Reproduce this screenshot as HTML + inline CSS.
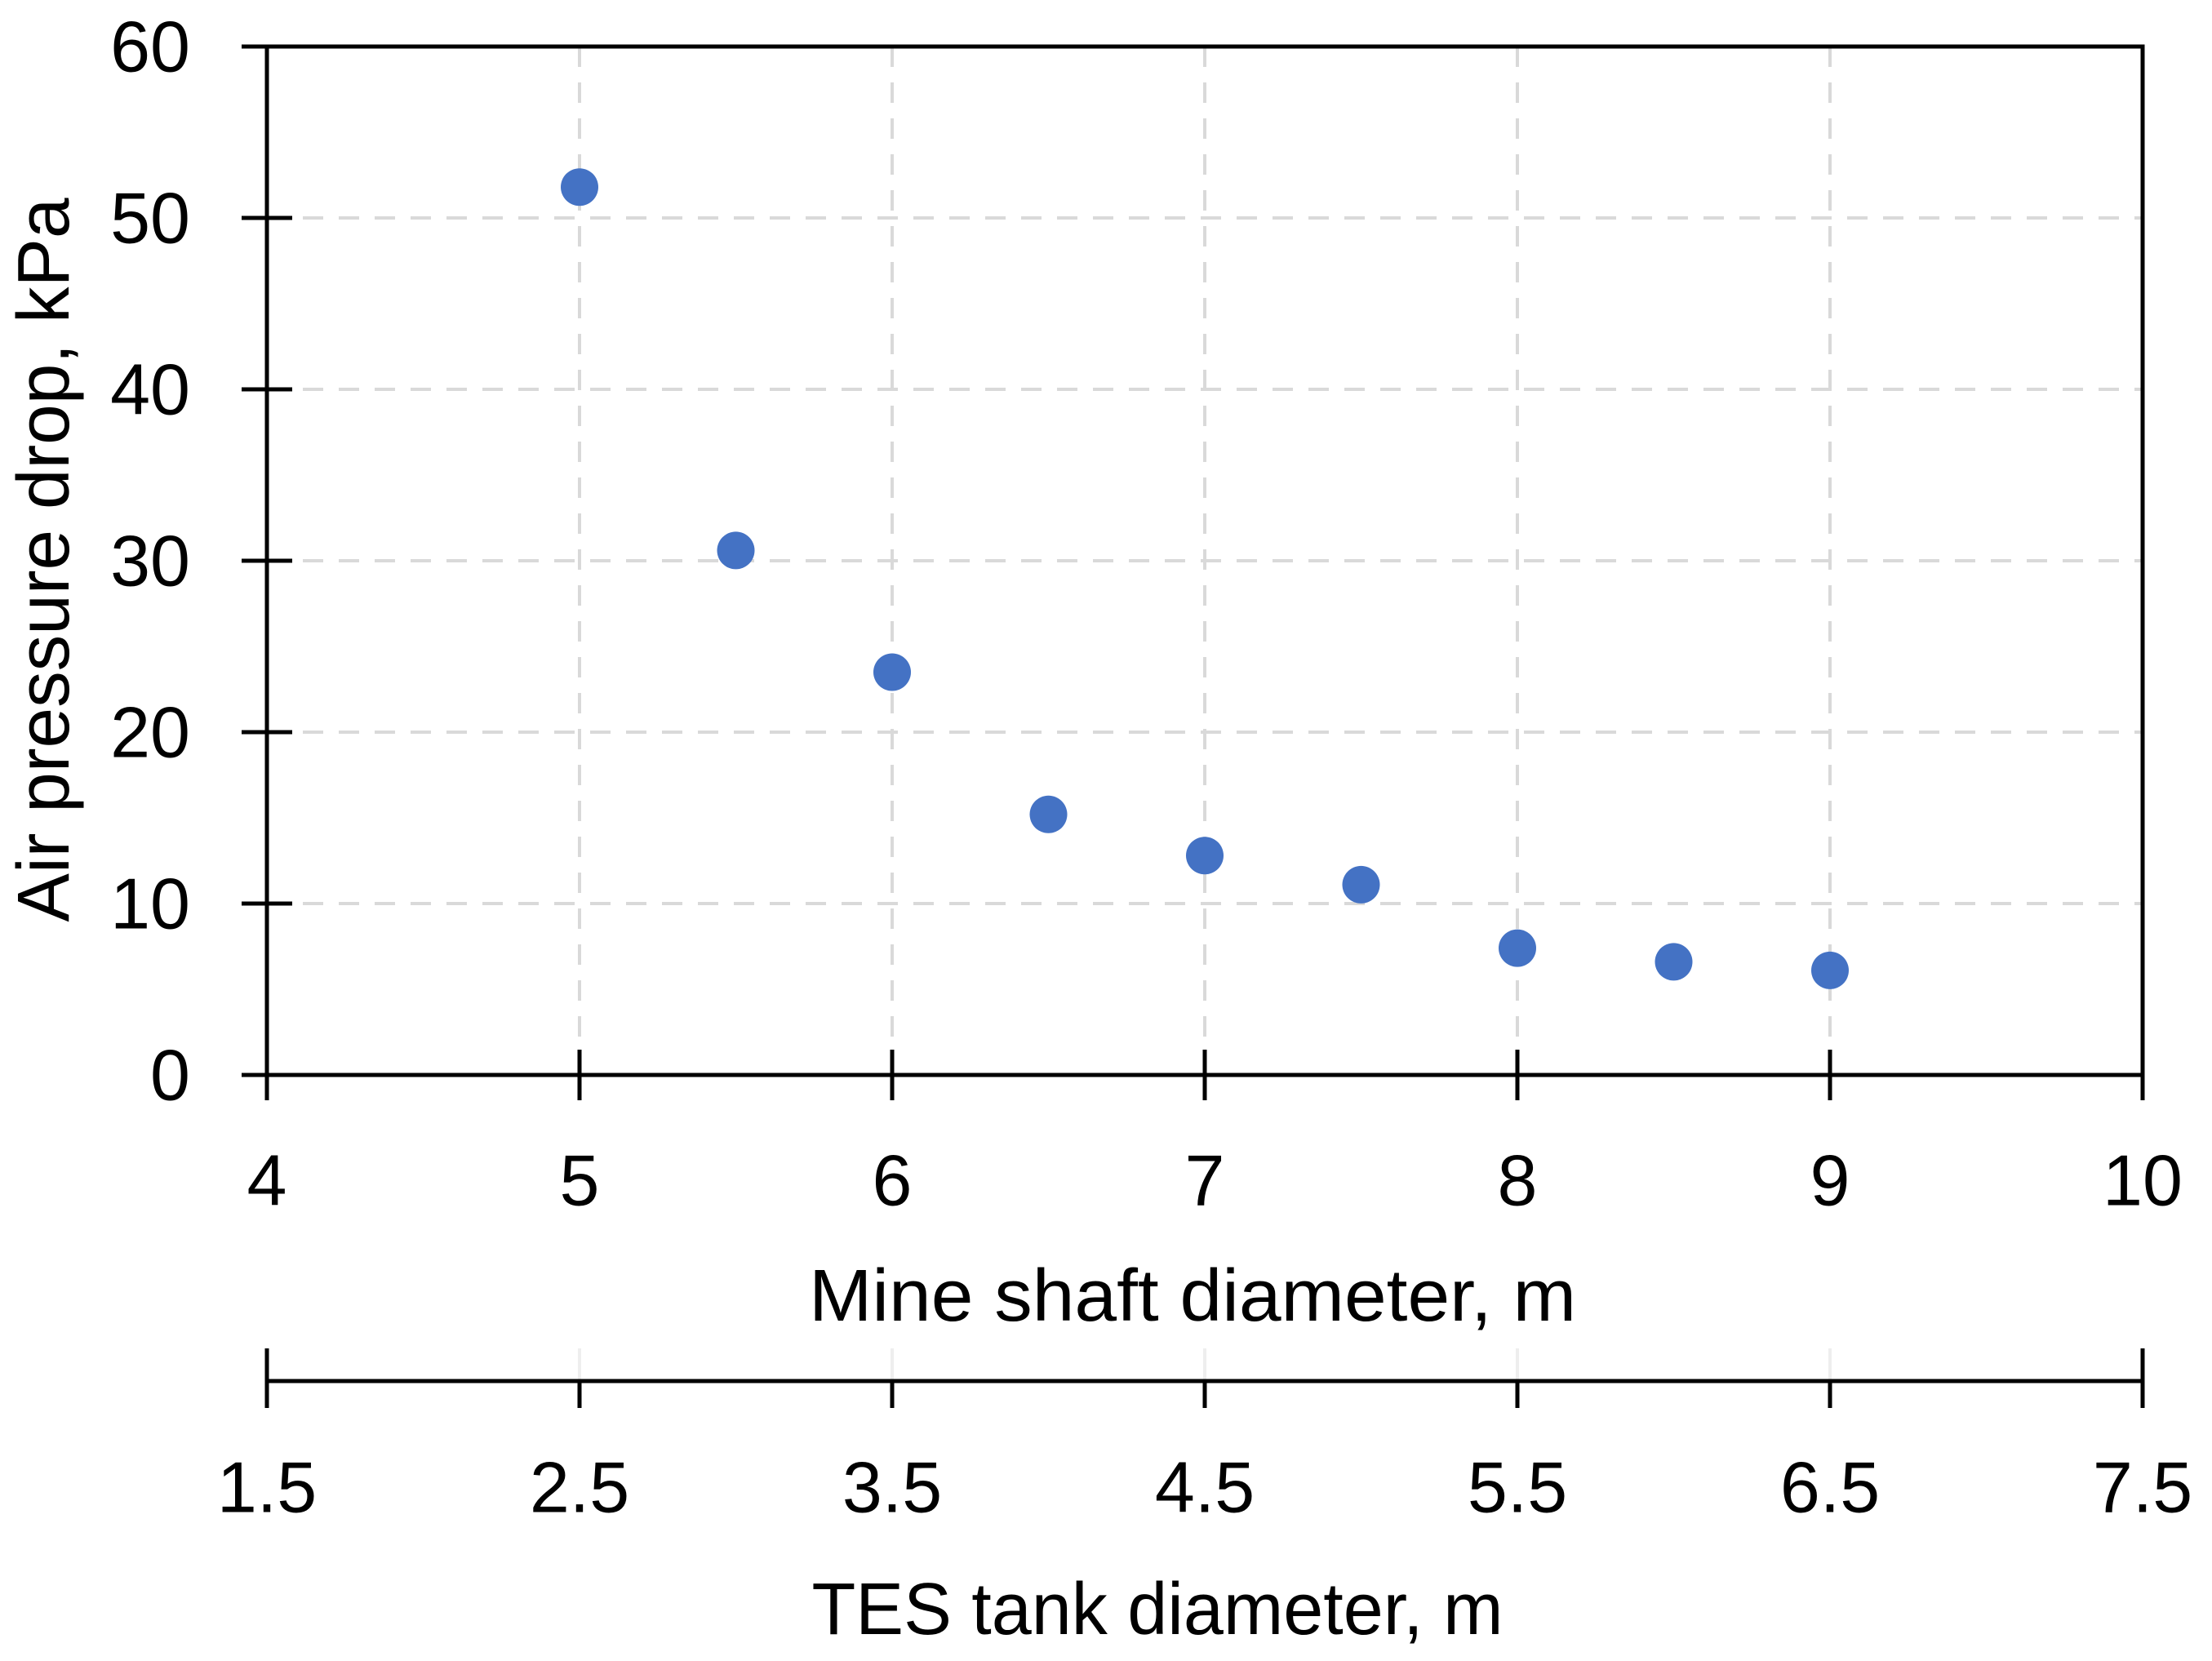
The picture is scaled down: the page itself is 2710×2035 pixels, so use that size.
<!DOCTYPE html>
<html><head><meta charset="utf-8"><style>
html,body{margin:0;padding:0;background:#fff;}
svg text{font-family:"Liberation Sans",sans-serif;fill:#000;}
</style></head><body>
<svg id="chart" width="2710" height="2030" xmlns="http://www.w3.org/2000/svg">
<g id="grid"></g>
<g id="axes"></g>
<g id="points"></g>
<text x="0" y="0" font-size="90" text-anchor="middle" dominant-baseline="central" transform="translate(54,686) rotate(-90)" textLength="887" lengthAdjust="spacingAndGlyphs">Air pressure drop, kPa</text>
<text x="1461" y="1588" font-size="90" text-anchor="middle" dominant-baseline="central" textLength="940" lengthAdjust="spacingAndGlyphs">Mine shaft diameter, m</text>
<text x="1418" y="1972" font-size="90" text-anchor="middle" dominant-baseline="central" textLength="847" lengthAdjust="spacingAndGlyphs">TES tank diameter, m</text>
</svg>
<script>
const xValues = [5, 5.5, 6, 6.5, 7, 7.5, 8, 8.5, 9];
const yValues = [51.8, 30.6, 23.5, 15.2, 12.8, 11.1, 7.4, 6.6, 6.1];
const xTicks = [4, 5, 6, 7, 8, 9, 10];
const yTicks = [0, 10, 20, 30, 40, 50, 60];
const x2Ticks = ["1.5", "2.5", "3.5", "4.5", "5.5", "6.5", "7.5"];

const NS = "http://www.w3.org/2000/svg";
const L = 327, R = 2625, T = 57, B = 1317;
const X2 = 1692;
function sx(v){ return L + (v - 4) / 6 * (R - L); }
function sy(v){ return B - v / 60 * (B - T); }
function mk(tag, attrs, parent){
  const e = document.createElementNS(NS, tag);
  for (const k in attrs) e.setAttribute(k, attrs[k]);
  parent.appendChild(e);
  return e;
}
const grid = document.getElementById('grid');
const axes = document.getElementById('axes');
const pts = document.getElementById('points');

yTicks.forEach(v => {
  if (v > 0 && v < 60) {
    const g = mk('line', {x1: L, x2: R, y1: sy(v), y2: sy(v), stroke: '#d9d9d9', 'stroke-width': 4, 'stroke-dasharray': '25 19'}, grid);
    
    
  }
  const t = mk('line', {x1: L - 31, x2: L + 31, y1: sy(v), y2: sy(v), stroke: '#000', 'stroke-width': 5}, axes);
  
  
  const lb = mk('text', {x: 233, y: sy(v), 'font-size': 88, 'text-anchor': 'end', 'dominant-baseline': 'central'}, axes);
  lb.textContent = v;
  
  
});

xTicks.forEach((v, i) => {
  const x = sx(v);
  if (v > 4 && v < 10) {
    const g = mk('line', {x1: x, x2: x, y1: T, y2: B, stroke: '#d9d9d9', 'stroke-width': 4, 'stroke-dasharray': '25 19'}, grid);
    
    
    const g2 = mk('line', {x1: x, x2: x, y1: X2 - 40, y2: X2, stroke: '#eeeeee', 'stroke-width': 4}, grid);
    
    
  }
  const t = mk('line', {x1: x, x2: x, y1: B - 31, y2: B + 31, stroke: '#000', 'stroke-width': 5}, axes);
  
  
  const lb = mk('text', {x: x, y: 1446, 'font-size': 88, 'text-anchor': 'middle', 'dominant-baseline': 'central'}, axes);
  lb.textContent = v;
  
  
  const end = (i === 0 || i === xTicks.length - 1);
  const t2 = mk('line', {x1: x, x2: x, y1: end ? X2 - 40 : X2, y2: X2 + 33, stroke: '#000', 'stroke-width': 5}, axes);
  
  
  const lb2 = mk('text', {x: x, y: 1822, 'font-size': 88, 'text-anchor': 'middle', 'dominant-baseline': 'central'}, axes);
  lb2.textContent = x2Ticks[i];
  
  
});

const frame = mk('path', {d: `M${L},${B} L${L},${T} L${R},${T} L${R},${B} Z`, fill: 'none', stroke: '#000', 'stroke-width': 5}, axes);


const ax2 = mk('line', {x1: L, x2: R, y1: X2, y2: X2, stroke: '#000', 'stroke-width': 5}, axes);



xValues.forEach((v, i) => {
  const c = mk('circle', {cx: sx(v), cy: sy(yValues[i]), r: 23, fill: '#4472c4'}, pts);
  
  
});
</script>
</body></html>
